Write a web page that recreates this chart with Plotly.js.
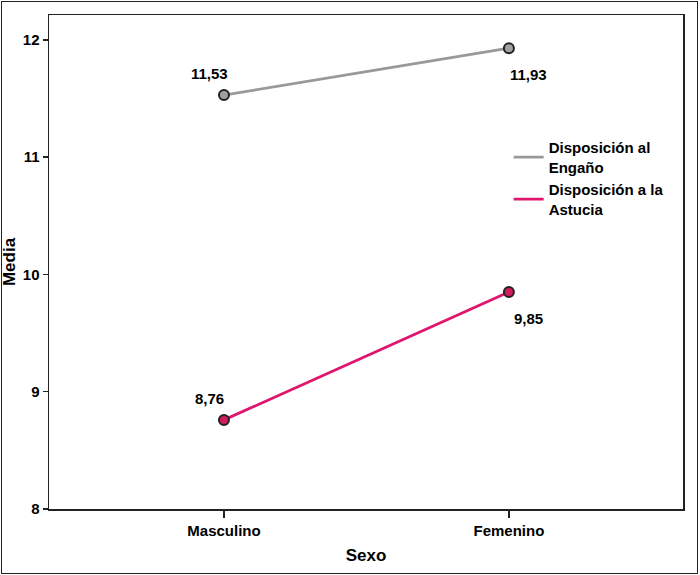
<!DOCTYPE html>
<html>
<head>
<meta charset="utf-8">
<script src="https://cdn.plot.ly/plotly-3.0.1.min.js"></script>
<style>
body{margin:0;padding:0;background:#fff;}
#frame{position:absolute;left:1px;top:1px;width:695px;height:571px;border:1px solid #222;pointer-events:none;z-index:5;}
#chart{position:absolute;left:0;top:0;width:700px;height:575px;}
</style>
</head>
<body>
<div id="chart"></div>
<div id="frame"></div>
<script>
var categories = ["Masculino", "Femenino"];
var engano = [11.53, 11.93];
var astucia = [8.76, 9.85];
var seriesNames = ["Disposición al<br>Engaño", "Disposición a la<br>Astucia"];
var yTicks = [8, 9, 10, 11, 12];

function fmt(v){ return v.toFixed(2).replace('.', ','); }

var FAM = "Liberation Sans, Arial, sans-serif";
var font = {family: FAM, size: 15, color: "#000"};
var colors = ["#999999", "#e0156e"];
var markerColors = ["#a0a0a0", "#d01c5b"];
var series = [engano, astucia];

var traces = [];
series.forEach(function(arr, i){
  traces.push({
    x: categories, y: arr, name: seriesNames[i], type: "scatter", mode: "lines",
    line: {color: colors[i], width: 2.8}, legendrank: i + 1
  });
});
series.forEach(function(arr, i){
  traces.push({
    x: categories, y: arr, type: "scatter", mode: "markers", showlegend: false,
    marker: {color: markerColors[i], size: 10, line: {color: "#222", width: 2}}
  });
});

var annotations = [];
series.forEach(function(arr){
  annotations.push({x: categories[0], y: arr[0], text: "<b>" + fmt(arr[0]) + "</b>", showarrow: false,
    xanchor: "center", yanchor: "bottom", xshift: -14, yshift: 11, font: font});
  annotations.push({x: categories[1], y: arr[1], text: "<b>" + fmt(arr[1]) + "</b>", showarrow: false,
    xanchor: "center", yanchor: "top", xshift: 20, yshift: -16, font: font});
});

var layout = {
  width: 700, height: 575,
  margin: {l: 49, r: 17, t: 15, b: 66},
  paper_bgcolor: "#fff", plot_bgcolor: "#fff",
  font: font,
  showlegend: true,
  legend: {x: 0.725, y: 0.765, xanchor: "left", yanchor: "top", bgcolor: "rgba(0,0,0,0)",
    font: {family: FAM, size: 15, color: "#000", weight: "bold"},
    tracegroupgap: 0, itemwidth: 30},
  xaxis: {
    type: "category", range: [-0.614, 1.611],
    showline: true, mirror: true, linecolor: "#222", linewidth: 1.5,
    showgrid: false, zeroline: false,
    ticks: "outside", ticklen: 7, tickcolor: "#222", tickwidth: 1.5,
    tickfont: {family: FAM, size: 15, color: "#000", weight: "bold"},
    title: {text: "<b>Sexo</b>", font: {family: FAM, size: 17, color: "#000"}, standoff: 11}
  },
  yaxis: {
    range: [8, 12.213], tickvals: yTicks, ticktext: yTicks.map(String),
    showline: true, mirror: true, linecolor: "#222", linewidth: 1.5,
    showgrid: false, zeroline: false,
    ticks: "outside", ticklen: 5, tickcolor: "#222", tickwidth: 1.5,
    tickfont: {family: FAM, size: 15, color: "#000", weight: "bold"},
    title: {text: "<b>Media</b>", font: {family: FAM, size: 17, color: "#000"}, standoff: 3}
  },
  annotations: annotations
};

Plotly.newPlot("chart", traces, layout, {displayModeBar: false, staticPlot: true});
</script>
</body>
</html>
